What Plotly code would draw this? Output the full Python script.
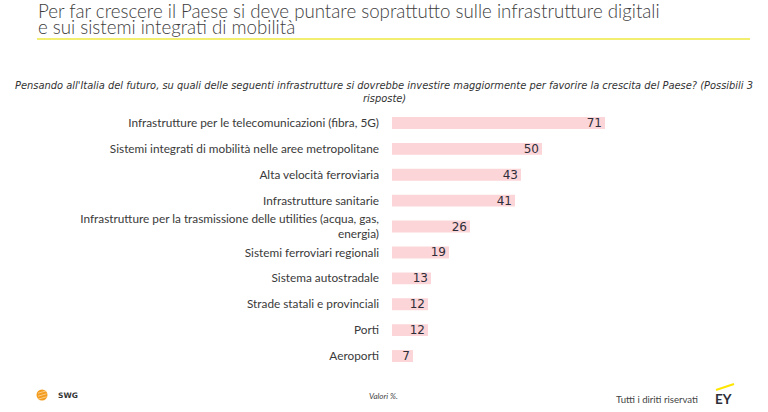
import plotly.graph_objects as go

categories = [
    "Infrastrutture per le telecomunicazioni (fibra, 5G)",
    "Sistemi integrati di mobilità nelle aree metropolitane",
    "Alta velocità ferroviaria",
    "Infrastrutture sanitarie",
    "Infrastrutture per la trasmissione delle utilities (acqua, gas,<br>energia)",
    "Sistemi ferroviari regionali",
    "Sistema autostradale",
    "Strade statali e provinciali",
    "Porti",
    "Aeroporti",
]
values = [71, 50, 43, 41, 26, 19, 13, 12, 12, 7]

title_lines = [
    "Per far crescere il Paese si deve puntare soprattutto sulle infrastrutture digitali",
    "e sui sistemi integrati di mobilità",
]
subtitle_lines = [
    "Pensando all'Italia del futuro, su quali delle seguenti infrastrutture si dovrebbe investire maggiormente per favorire la crescita del Paese? (Possibili 3",
    "risposte)",
]
note = "Valori %."
rights = "Tutti i diriti riservati"

W, H = 768, 412
ML, MR, MT, MB = 392, 76, 110, 43
PW, PH = W - ML - MR, H - MT - MB


def px(x):
    return (x - ML) / PW


def py(y):
    return (H - MB - y) / PH


FONT = "Lato, Roboto, sans-serif"

fig = go.Figure(
    go.Bar(
        x=values,
        y=categories,
        orientation="h",
        marker=dict(color="#fcd5d8", line=dict(width=0)),
        width=0.46,
        text=[str(v) for v in values],
        textposition="inside",
        insidetextanchor="end",
        textangle=0,
        constraintext="none",
        textfont=dict(family="DejaVu Sans, Verdana, sans-serif", size=12, color="#2e2e38"),
        hoverinfo="skip",
    )
)

fig.update_layout(
    width=W,
    height=H,
    margin=dict(l=ML, r=MR, t=MT, b=MB),
    paper_bgcolor="white",
    plot_bgcolor="white",
    showlegend=False,
    font=dict(family=FONT, color="#3a3a3a"),
    xaxis=dict(range=[0, 100], visible=False, fixedrange=True),
    yaxis=dict(
        categoryorder="array",
        categoryarray=categories[::-1],
        autorange=False,
        range=[-0.5, len(categories) - 0.5],
        showgrid=False,
        showline=False,
        zeroline=False,
        ticks="",
        ticklabelstandoff=12,
        fixedrange=True,
        tickfont=dict(family=FONT, size=11.8, color="#3a3a3a"),
    ),
)

ann = []
for line, yy in zip(title_lines, [11, 27]):
    ann.append(dict(x=px(36), y=py(yy), xref="paper", yref="paper", text=line,
                    showarrow=False, xanchor="left", yanchor="middle",
                    font=dict(family=FONT, size=18.7, color="#3d3d3d", weight=300)))
for line, yy in zip(subtitle_lines, [86, 98]):
    ann.append(dict(x=px(384), y=py(yy), xref="paper", yref="paper", text="<i>" + line + "</i>",
                    showarrow=False, xanchor="center", yanchor="middle",
                    font=dict(family="DejaVu Sans, sans-serif", size=9.9, color="#333333")))
ann.append(dict(x=px(55.5), y=py(395.5), xref="paper", yref="paper", text="<b>SWG</b>",
                showarrow=False, xanchor="left", yanchor="middle",
                font=dict(family="DejaVu Sans, sans-serif", size=7.5, color="#333333")))
ann.append(dict(x=px(383), y=py(396), xref="paper", yref="paper", text="<i>" + note + "</i>",
                showarrow=False, xanchor="center", yanchor="middle",
                font=dict(family=FONT, size=8, color="#444444")))
ann.append(dict(x=px(700), y=py(399), xref="paper", yref="paper", text=rights,
                showarrow=False, xanchor="right", yanchor="middle",
                font=dict(family=FONT, size=9.6, color="#444444")))
ann.append(dict(x=px(713), y=py(399), xref="paper", yref="paper", text="<b>EY</b>",
                showarrow=False, xanchor="left", yanchor="middle",
                font=dict(family=FONT, size=13.5, color="#2e2e38")))
fig.update_layout(annotations=ann)

shapes = [
    dict(type="line", xref="paper", yref="paper", x0=px(37), x1=px(750), y0=py(39), y1=py(39),
         line=dict(color="#ece840", width=1.5)),
    dict(type="circle", xref="paper", yref="paper", x0=px(36.5), x1=px(47.5), y0=py(400.5), y1=py(389.5),
         fillcolor="#f39c1f", line=dict(width=0)),
    dict(type="line", xref="paper", yref="paper", x0=px(716), x1=px(734), y0=py(390), y1=py(384),
         line=dict(color="#ffe600", width=2)),
]
for k in range(3):
    yy = 392 + k * 3
    shapes.append(dict(type="line", xref="paper", yref="paper", x0=px(38), x1=px(46.5),
                       y0=py(yy + 1.2), y1=py(yy - 1.2), line=dict(color="#fde3b8", width=0.7)))
fig.update_layout(shapes=shapes)

fig.write_html("out.html", config={"displayModeBar": False, "staticPlot": True},
               post_script="document.body.style.margin='0';")
